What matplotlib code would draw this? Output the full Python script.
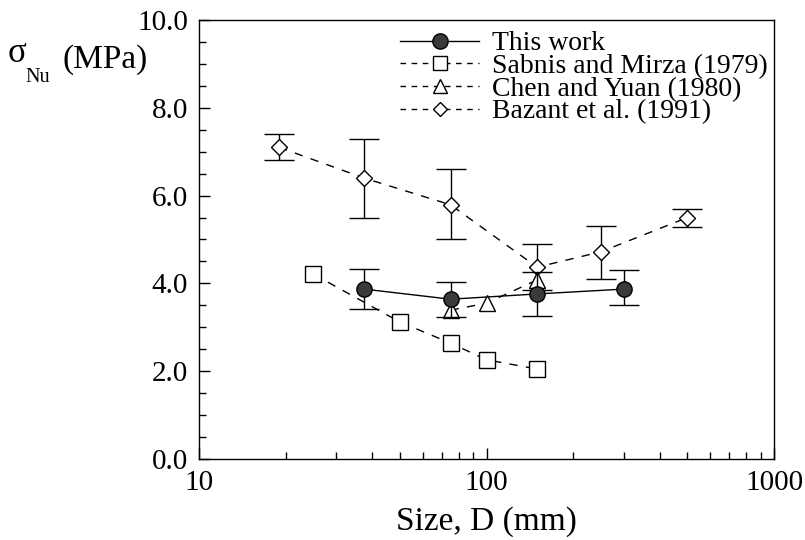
import matplotlib
matplotlib.use("Agg")
import matplotlib.pyplot as plt
from matplotlib.ticker import FixedLocator, LogLocator, NullFormatter, FormatStrFormatter, MultipleLocator
import numpy as np

plt.rcParams['font.family'] = ['Liberation Serif', 'DejaVu Serif']

# this work
d_this = [37.5, 75, 150, 300]
s_this = [3.87, 3.64, 3.76, 3.87]
e_this_lo = [0.45, 0.41, 0.50, 0.37]
e_this_hi = [0.46, 0.39, 0.50, 0.43]

# Sabnis and Mirza (1979)
d_sab = [25, 50, 75, 100, 150]
s_sab = [4.21, 3.12, 2.64, 2.26, 2.05]

# Chen and Yuan (1980)
d_chen = [75, 100, 150]
s_chen = [3.39, 3.55, 4.08]

# Bazant et al. (1991)
d_baz = [19, 37.5, 75, 150, 250, 500]
s_baz = [7.10, 6.40, 5.79, 4.37, 4.72, 5.50]
e_baz_lo = [0.30, 0.90, 0.79, 0.52, 0.62, 0.21]
e_baz_hi = [0.30, 0.90, 0.81, 0.53, 0.58, 0.19]

labels = ['This work', 'Sabnis and Mirza (1979)', 'Chen and Yuan (1980)', 'Bazant et al. (1991)']

W, H = 805, 540
fig = plt.figure(figsize=(W / 100, H / 100), dpi=100)
ax = fig.add_axes([199 / W, 1 - 459 / H, 575 / W, 439 / H])

dash = (0, (6, 6))
ax.errorbar(d_baz, s_baz, yerr=[e_baz_lo, e_baz_hi], color='black', lw=1, ls=dash,
            marker='D', ms=8, mfc='white', mec='black', mew=1,
            ecolor='black', elinewidth=1, capsize=11, capthick=1, zorder=2)
ax.plot(d_chen, s_chen, color='black', lw=1, ls=dash, marker='^', ms=11,
        mfc='white', mec='black', mew=1, zorder=3)
ax.plot(d_sab, s_sab, color='black', lw=1, ls=dash, marker='s', ms=11,
        mfc='white', mec='black', mew=1, zorder=3)
ax.errorbar(d_this, s_this, yerr=[e_this_lo, e_this_hi], color='black', lw=1, ls='-',
            marker='o', ms=11, mfc='#3a3a3a', mec='black', mew=1,
            ecolor='black', elinewidth=1, capsize=11, capthick=1, zorder=4)

# legend proxies
ldash = (0, (4, 4))
h1, = ax.plot([], [], color='black', lw=1, ls='-', marker='o', ms=11, mfc='#3a3a3a', mec='black')
h2, = ax.plot([], [], color='black', lw=1, ls=ldash, marker='s', ms=10, mfc='white', mec='black')
h3, = ax.plot([], [], color='black', lw=1, ls=ldash, marker='^', ms=10, mfc='white', mec='black')
h4, = ax.plot([], [], color='black', lw=1, ls=ldash, marker='D', ms=7, mfc='white', mec='black')
ax.legend([h1, h2, h3, h4], labels,
          loc='upper left', bbox_to_anchor=(400 / W, 1 - 31 / H), bbox_transform=fig.transFigure,
          frameon=False, fontsize=20, borderaxespad=0, borderpad=0,
          handlelength=2.85, handletextpad=0.45, labelspacing=-0.1)

ax.set_xscale('log')
ax.set_xlim(10, 1000)
ax.set_ylim(0, 10)
ax.xaxis.set_major_locator(FixedLocator([10, 100, 1000]))
ax.xaxis.set_major_formatter(FormatStrFormatter('%d'))
ax.xaxis.set_minor_locator(LogLocator(base=10, subs=np.arange(2, 10)))
ax.xaxis.set_minor_formatter(NullFormatter())
ax.yaxis.set_major_locator(MultipleLocator(2))
ax.yaxis.set_minor_locator(MultipleLocator(0.5))
ax.yaxis.set_major_formatter(FormatStrFormatter('%.1f'))
ax.tick_params(which='both', direction='in', top=False, right=False, labelsize=21, pad=8)
ax.tick_params(which='major', length=8, width=1)
ax.tick_params(which='minor', length=5, width=1)
for sp in ax.spines.values():
    sp.set_linewidth(1)

ax.set_xlabel('Size, D (mm)', fontsize=24, labelpad=7)

# y label: sigma with subscript Nu, placed at top-left
fig.text(8 / W, 1 - 54 / H, 'σ', fontsize=25, ha='left', va='center')
fig.text(25 / W, 1 - 77 / H, 'Nu', fontsize=14.5, ha='left', va='center')
fig.text(62 / W, 1 - 60 / H, '(MPa)', fontsize=24, ha='left', va='center')

fig.savefig('out.png', dpi=100)
